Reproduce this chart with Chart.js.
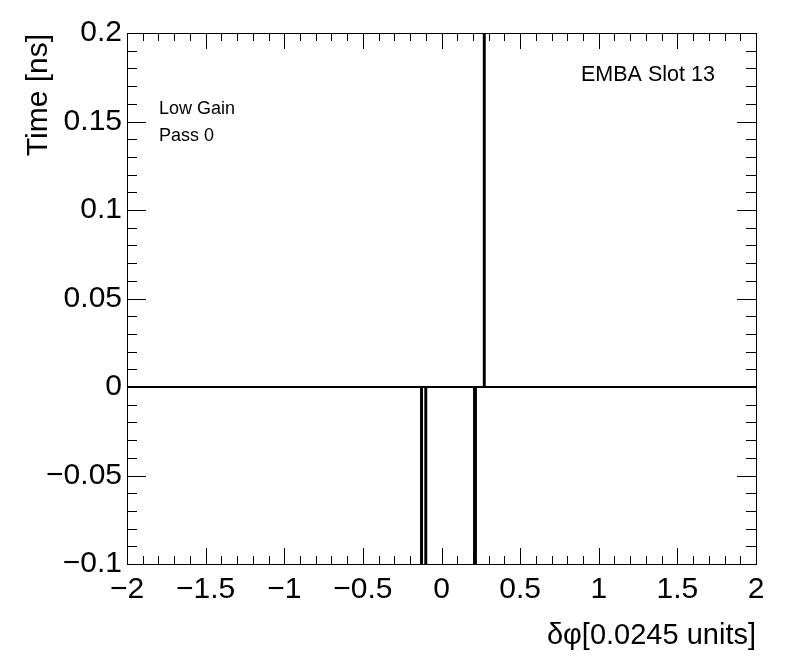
<!DOCTYPE html>
<html>
<head>
<meta charset="utf-8">
<script src="https://cdn.jsdelivr.net/npm/chart.js@4.4.1/dist/chart.umd.min.js"></script>
<style>
  html, body { margin: 0; padding: 0; background: #fff; }
  #wrap { width: 796px; height: 672px; position: relative; }
</style>
</head>
<body>
<div id="wrap"><canvas id="grafica"></canvas></div>
<script>
// Datos del histograma (bins distintos de cero)
const binInicio = [-0.130, -0.103, 0.207, 0.269];
const binFin = [-0.124, -0.097, 0.219, 0.275];
const binValor = [-0.3, -0.3, -0.3, 0.4];
const rangoX = [-2, 2];
const rangoY = [-0.1, 0.2];
const pasoX = 0.5;
const pasoY = 0.05;

const fuente = '"Liberation Sans", Arial, Helvetica, sans-serif';

// Convertir los bins en una línea escalonada
const puntos = [{ x: rangoX[0], y: 0 }];
binInicio.forEach((ini, i) => {
    puntos.push({ x: ini, y: 0 });
    puntos.push({ x: ini, y: binValor[i] });
    puntos.push({ x: binFin[i], y: binValor[i] });
    puntos.push({ x: binFin[i], y: 0 });
});
puntos.push({ x: rangoX[1], y: 0 });

function formatoRoot(v) {
    const r = Math.round(v * 1000) / 1000;
    return String(r).replace('-', '\u2212');
}

// Marco, ticks hacia dentro y textos al estilo ROOT
const estiloRoot = {
    id: 'estiloRoot',
    afterDatasetsDraw(chart) {
        const { ctx, chartArea: a, scales } = chart;
        const sx = scales.x, sy = scales.y;
        ctx.save();
        ctx.strokeStyle = '#000';
        ctx.lineWidth = 1;
        ctx.beginPath();
        // ticks del eje x (abajo y arriba)
        for (let k = 0; k <= 40; k++) {
            const v = rangoX[0] + k * 0.1;
            const px = Math.round(sx.getPixelForValue(v)) + 0.5;
            const largo = (k % 5 === 0) ? 16 : 8;
            ctx.moveTo(px, a.bottom); ctx.lineTo(px, a.bottom - largo);
            ctx.moveTo(px, a.top); ctx.lineTo(px, a.top + largo);
        }
        // ticks del eje y (izquierda y derecha)
        for (let k = 0; k <= 30; k++) {
            const v = rangoY[0] + k * 0.01;
            const py = Math.round(sy.getPixelForValue(v)) + 0.5;
            const largo = (k % 5 === 0) ? 19 : 10;
            ctx.moveTo(a.left, py); ctx.lineTo(a.left + largo, py);
            ctx.moveTo(a.right, py); ctx.lineTo(a.right - largo, py);
        }
        ctx.stroke();
        ctx.strokeRect(Math.round(a.left) + 0.5, Math.round(a.top) + 0.5,
            Math.round(a.right - a.left), Math.round(a.bottom - a.top));

        ctx.fillStyle = '#000';
        // título eje x
        ctx.font = '29px ' + fuente;
        ctx.textAlign = 'right';
        ctx.textBaseline = 'alphabetic';
        ctx.fillText('δφ[0.0245 units]', 756, 644);
        // título eje y
        ctx.save();
        ctx.font = '30px ' + fuente;
        ctx.translate(47, 34);
        ctx.rotate(-Math.PI / 2);
        ctx.textAlign = 'right';
        ctx.fillText('Time [ns]', 0, 0);
        ctx.restore();
        // etiquetas
        ctx.textAlign = 'left';
        ctx.font = '21.5px ' + fuente;
        ctx.fillText('EMBA Slot 13', 581, 81);
        ctx.font = '18px ' + fuente;
        ctx.fillText('Low Gain', 159, 114);
        ctx.fillText('Pass 0', 159, 141);
        ctx.restore();
    }
};

const ctx = document.getElementById('grafica').getContext('2d');
new Chart(ctx, {
    type: 'scatter',
    data: {
        datasets: [{
            data: puntos,
            showLine: true,
            borderColor: '#000',
            borderWidth: 2,
            pointRadius: 0,
            tension: 0,
            clip: 0
        }]
    },
    options: {
        responsive: true,
        maintainAspectRatio: false,
        animation: false,
        layout: { padding: { top: 33, right: 40, left: 0, bottom: 0 } },
        plugins: { legend: { display: false }, tooltip: { enabled: false } },
        scales: {
            x: {
                type: 'linear',
                min: rangoX[0], max: rangoX[1],
                grid: { display: false, drawTicks: false },
                border: { display: false },
                ticks: {
                    stepSize: pasoX,
                    padding: 8,
                    color: '#000',
                    font: { family: fuente, size: 30 },
                    maxRotation: 0,
                    callback: (v) => formatoRoot(v)
                },
                afterFit: (escala) => { escala.height = 108; }
            },
            y: {
                type: 'linear',
                min: rangoY[0], max: rangoY[1],
                grid: { display: false, drawTicks: false },
                border: { display: false },
                ticks: {
                    stepSize: pasoY,
                    padding: 5,
                    color: '#000',
                    font: { family: fuente, size: 30 },
                    callback: (v) => formatoRoot(v)
                },
                afterFit: (escala) => { escala.width = 127; }
            }
        }
    },
    plugins: [estiloRoot]
});
</script>
</body>
</html>
